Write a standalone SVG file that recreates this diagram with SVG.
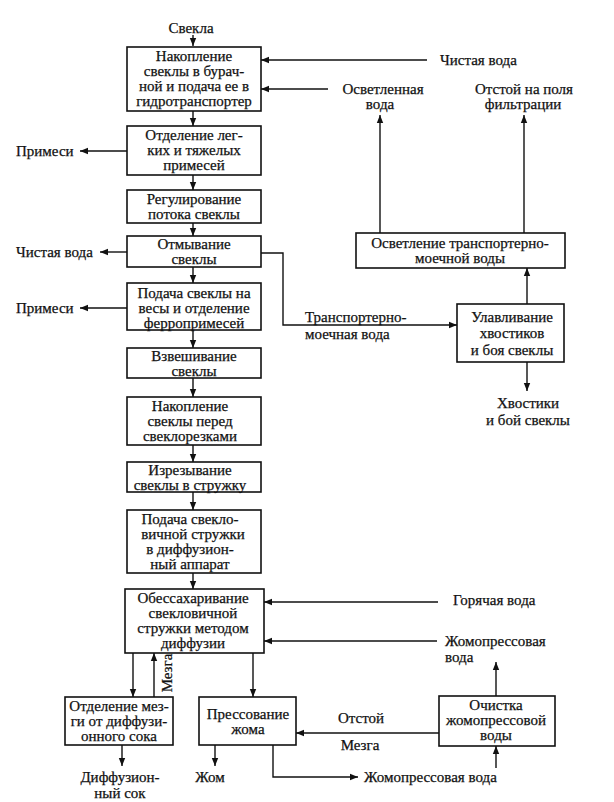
<svg xmlns="http://www.w3.org/2000/svg" width="614" height="802" viewBox="0 0 614 802" font-family="'Liberation Serif', 'Times New Roman', serif">
<style>
text{font-family:'Liberation Serif','Times New Roman',serif;font-size:15px;fill:#111;dominant-baseline:central;stroke:#111;stroke-width:0.25}
.c{text-anchor:middle}
.box{fill:#fff;stroke:#111;stroke-width:1.6}
.ln{fill:none;stroke:#111;stroke-width:1.4}
</style>
<defs>
<marker id="ah" viewBox="0 0 10 10" refX="10" refY="5" markerWidth="8" markerHeight="8" markerUnits="userSpaceOnUse" orient="auto">
<path d="M0,1 L10,5 L0,9 Z" fill="#111"/>
</marker>
</defs>
<rect width="614" height="802" fill="#fff"/>

<g id="connectors">
<path class="ln" marker-end="url(#ah)" d="M193,35 V46"/>
<path class="ln" marker-end="url(#ah)" d="M193,111 V126"/>
<path class="ln" marker-end="url(#ah)" d="M193,175 V190"/>
<path class="ln" marker-end="url(#ah)" d="M193,223 V236"/>
<path class="ln" marker-end="url(#ah)" d="M193,267 V283"/>
<path class="ln" marker-end="url(#ah)" d="M193,330 V348"/>
<path class="ln" marker-end="url(#ah)" d="M193,378 V397"/>
<path class="ln" marker-end="url(#ah)" d="M193,445 V462"/>
<path class="ln" marker-end="url(#ah)" d="M193,492 V510"/>
<path class="ln" marker-end="url(#ah)" d="M193,573 V589"/>
<path class="ln" marker-end="url(#ah)" d="M427,60 H261"/>
<path class="ln" marker-end="url(#ah)" d="M328,89 H261"/>
<path class="ln" marker-end="url(#ah)" d="M127,151 H80"/>
<path class="ln" marker-end="url(#ah)" d="M127,252 H100"/>
<path class="ln" marker-end="url(#ah)" d="M127,308 H80"/>
<path class="ln" marker-end="url(#ah)" d="M261,253 H283 V325 H457"/>
<path class="ln" marker-end="url(#ah)" d="M527,304 V268"/>
<path class="ln" marker-end="url(#ah)" d="M527,362 V391"/>
<path class="ln" marker-end="url(#ah)" d="M380,233 V115"/>
<path class="ln" marker-end="url(#ah)" d="M524,233 V115"/>
<path class="ln" marker-end="url(#ah)" d="M438,602 H264"/>
<path class="ln" marker-end="url(#ah)" d="M437,641 H264"/>
<path class="ln" marker-end="url(#ah)" d="M496,696 V662"/>
<path class="ln" marker-end="url(#ah)" d="M133,653 V697"/>
<path class="ln" marker-end="url(#ah)" d="M154,697 V653"/>
<path class="ln" marker-end="url(#ah)" d="M253,653 V697"/>
<path class="ln" marker-end="url(#ah)" d="M122,745 V766"/>
<path class="ln" marker-end="url(#ah)" d="M215,745 V766"/>
<path class="ln" marker-end="url(#ah)" d="M273,745 V777 H358"/>
<path class="ln" marker-end="url(#ah)" d="M496,768 V746"/>
<path class="ln" marker-end="url(#ah)" d="M439,733 H296"/>
</g>

<g id="labels">
<text class="c" x="191" y="28">Свекла</text>
<text x="440" y="60">Чистая вода</text>
<text class="c" x="383" y="89">Осветленная</text>
<text class="c" x="380" y="104">вода</text>
<text class="c" x="524" y="89">Отстой на поля</text>
<text class="c" x="523" y="104">фильтрации</text>
<text x="16" y="151">Примеси</text>
<text x="16" y="252">Чистая вода</text>
<text x="16" y="308">Примеси</text>
<text x="305" y="317">Транспортерно-</text>
<text x="305" y="334">моечная вода</text>
<text class="c" x="528" y="403">Хвостики</text>
<text class="c" x="528" y="420">и бой свеклы</text>
<text x="453" y="600">Горячая вода</text>
<text x="445" y="641">Жомопрессовая</text>
<text x="445" y="657">вода</text>
<text class="c" transform="translate(167,673) rotate(-90)" x="0" y="0">Мезга</text>
<text class="c" x="120" y="777">Диффузион-</text>
<text class="c" x="120" y="793">ный сок</text>
<text class="c" x="210" y="777">Жом</text>
<text x="364" y="777">Жомопрессовая вода</text>
<text class="c" x="361" y="718">Отстой</text>
<text class="c" x="360" y="745">Мезга</text>
</g>

<g id="n1"><rect class="box" x="127" y="47" width="134" height="64"/>
<text class="c" x="194" y="56">Накопление</text><text class="c" x="194" y="71">свеклы в бурач-</text><text class="c" x="194" y="86">ной и подача ее в</text><text class="c" x="194" y="101">гидротранспортер</text></g>
<g id="n2"><rect class="box" x="127" y="126" width="134" height="49"/>
<text class="c" x="194" y="135">Отделение лег-</text><text class="c" x="194" y="150">ких и тяжелых</text><text class="c" x="194" y="165">примесей</text></g>
<g id="n3"><rect class="box" x="127" y="190" width="134" height="33"/>
<text class="c" x="194" y="199">Регулирование</text><text class="c" x="194" y="214">потока свеклы</text></g>
<g id="n4"><rect class="box" x="127" y="236" width="134" height="31"/>
<text class="c" x="194" y="244">Отмывание</text><text class="c" x="194" y="259">свеклы</text></g>
<g id="n5"><rect class="box" x="127" y="283" width="134" height="47"/>
<text class="c" x="194" y="293">Подача свеклы на</text><text class="c" x="194" y="308">весы и отделение</text><text class="c" x="194" y="323">ферропримесей</text></g>
<g id="n6"><rect class="box" x="127" y="348" width="134" height="30"/>
<text class="c" x="194" y="356">Взвешивание</text><text class="c" x="194" y="371">свеклы</text></g>
<g id="n7"><rect class="box" x="127" y="397" width="134" height="48"/>
<text class="c" x="190" y="406">Накопление</text><text class="c" x="190" y="421">свеклы перед</text><text class="c" x="190" y="436">свеклорезками</text></g>
<g id="n8"><rect class="box" x="127" y="462" width="134" height="30"/>
<text class="c" x="190" y="470">Изрезывание</text><text class="c" x="190" y="485">свеклы в стружку</text></g>
<g id="n9"><rect class="box" x="127" y="510" width="134" height="63"/>
<text class="c" x="190" y="519">Подача свекло-</text><text class="c" x="193" y="534">вичной стружки</text><text class="c" x="190" y="549">в диффузион-</text><text class="c" x="190" y="564">ный аппарат</text></g>
<g id="n10"><rect class="box" x="125" y="589" width="139" height="64"/>
<text class="c" x="193" y="598">Обессахаривание</text><text class="c" x="193" y="613">свекловичной</text><text class="c" x="193" y="628">стружки методом</text><text class="c" x="193" y="643">диффузии</text></g>
<g id="n11"><rect class="box" x="65" y="697" width="108" height="48"/>
<text class="c" x="119" y="706">Отделение мез-</text><text class="c" x="119" y="721">ги от диффузи-</text><text class="c" x="119" y="736">онного сока</text></g>
<g id="n12"><rect class="box" x="199" y="697" width="97" height="48"/>
<text class="c" x="248" y="714">Прессование</text><text class="c" x="248" y="729">жома</text></g>
<g id="n13"><rect class="box" x="439" y="696" width="116" height="50"/>
<text class="c" x="496" y="705">Очистка</text><text class="c" x="496" y="720">жомопрессовой</text><text class="c" x="496" y="735">воды</text></g>
<g id="n14"><rect class="box" x="356" y="233" width="209" height="35"/>
<text class="c" x="460" y="243">Осветление транспортерно-</text><text class="c" x="460" y="258">моечной воды</text></g>
<g id="n15"><rect class="box" x="457" y="304" width="107" height="58"/>
<text class="c" x="512" y="317">Улавливание</text><text class="c" x="512" y="333">хвостиков</text><text class="c" x="512" y="350">и боя свеклы</text></g>
</svg>
